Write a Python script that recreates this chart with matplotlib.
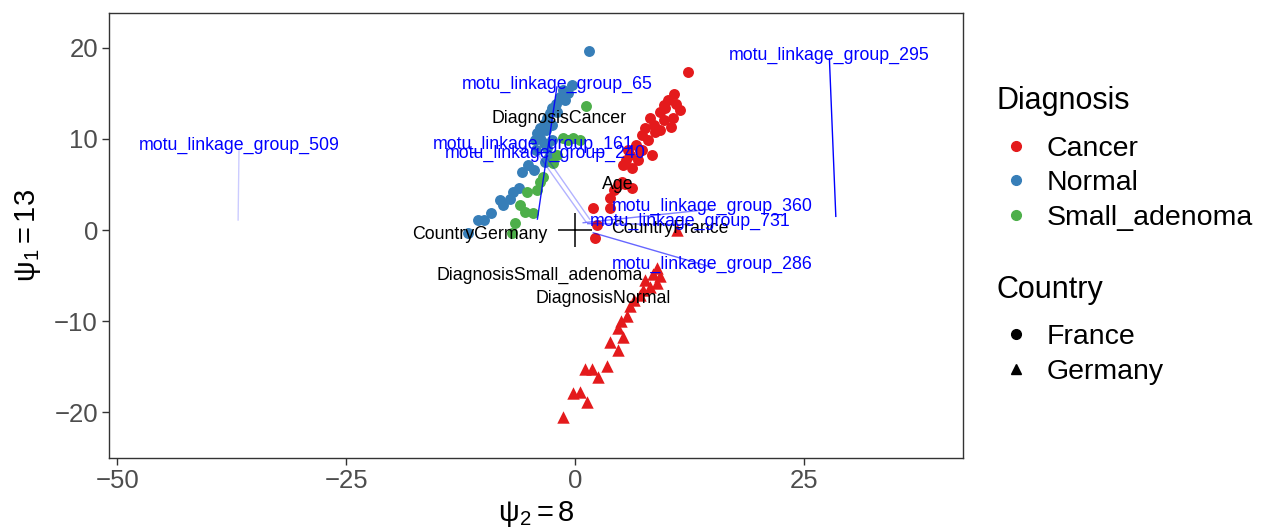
import matplotlib
matplotlib.use("Agg")
import matplotlib.pyplot as plt
from matplotlib.lines import Line2D

plt.rcParams['font.family'] = ['Liberation Sans', 'DejaVu Sans']
plt.rcParams['mathtext.fontset'] = 'custom'
plt.rcParams['mathtext.rm'] = 'Liberation Sans'
plt.rcParams['mathtext.it'] = 'Liberation Sans'
plt.rcParams['axes.unicode_minus'] = True

# sample scores on the two latent axes, by diagnosis and country
cancer_fr_x = [12.3, 10.8, 10.2, 11.0, 9.8, 9.3, 8.2, 8.6, 9.7, 11.5, 10.7, 7.6, 8.7, 7.3,
               9.3, 8.0, 6.7, 7.1, 6.0, 8.4, 5.6, 6.9, 5.3, 5.1, 4.7, 4.3, 3.8, 2.0, 3.8,
               2.4, 2.2, 5.5, 6.2, 9.7, 10.5, 7.3, 6.2, 5.8]
cancer_fr_y = [17.3, 14.9, 14.3, 13.8, 13.4, 12.9, 12.3, 11.5, 12.1, 13.2, 12.3, 11.2, 10.7, 10.4,
               11.0, 9.9, 9.3, 8.8, 8.2, 8.2, 7.7, 7.7, 7.1, 5.3, 4.9, 4.4, 3.5, 2.4, 2.4,
               0.5, -0.9, 5.0, 4.6, 13.7, 11.3, 8.8, 6.8, 8.8]
cancer_de_x = [8.95, 8.5, 8.95, 8.2, 7.4, 7.1, 6.4, 6.0, 5.7, 5.0, 4.7, 5.2, 3.8, 4.7, 3.5,
               1.9, 1.1, 2.5, 0.5, -0.2, 1.3, -1.3, 7.6, 11.1, 9.3]
cancer_de_y = [-4.2, -4.8, -5.8, -6.3, -6.6, -7.1, -7.7, -8.3, -9.4, -10.0, -10.7, -11.7, -12.3,
               -13.2, -14.9, -15.2, -15.2, -16.1, -17.8, -17.9, -18.9, -20.5, -5.5, 0.0, -5.0]
normal_x = [1.5, -0.3, -0.8, -1.3, -1.6, -1.1, -2.1, -2.5, -2.7, -3.0, -3.3, -3.8, -4.2, -3.8,
            -4.4, -3.2, -2.5, -2.0, -3.4, -3.0, -2.5, -2.8, -3.3, -5.1, -4.5, -5.8, -6.1,
            -6.8, -7.1, -7.9, -8.2, -9.2, -9.9, -10.6, -11.7, -4.3]
normal_y = [19.6, 15.9, 15.0, 15.4, 14.6, 14.3, 13.8, 13.4, 12.8, 12.3, 11.7, 11.2, 10.6, 10.1,
            9.9, 11.0, 11.5, 12.9, 9.5, 9.0, 9.9, 8.0, 7.5, 7.1, 6.6, 6.4, 4.6, 4.2, 3.4,
            2.7, 3.3, 1.9, 1.1, 1.1, -0.3, 8.8]
adenoma_x = [1.2, -1.3, -0.2, 0.5, -0.8, -2.0, -2.4, -3.5, -3.8, -4.1, -5.2, -6.0, -5.5,
             -4.6, -6.6, -6.9]
adenoma_y = [13.6, 10.1, 10.1, 9.9, 9.9, 8.2, 7.3, 5.8, 5.3, 4.4, 4.2, 2.7, 2.0, 1.9, 0.8, -0.3]

# covariate labels
cov_names = ["DiagnosisCancer", "Age", "CountryFrance", "CountryGermany",
             "DiagnosisSmall_adenoma", "DiagnosisNormal"]
cov_x = [-1.75, 4.7, 10.4, -10.4, -3.8, 3.1]
cov_y = [12.2, 5.0, 0.2, -0.5, -5.0, -7.5]

# taxa loadings and where their labels sit
taxa_names = ["motu_linkage_group_295", "motu_linkage_group_509", "motu_linkage_group_65",
              "motu_linkage_group_161", "motu_linkage_group_240", "motu_linkage_group_360",
              "motu_linkage_group_731", "motu_linkage_group_286"]
taxa_x = [28.5, -36.8, -4.1, 1.2, 1.6, 0.9, 1.4, 2.0]
taxa_y = [1.5, 1.1, 1.2, 0.9, 1.2, 0.8, 0.7, -0.3]
taxa_lab_x = [27.8, -36.7, -1.97, -4.6, -3.2, 15.0, 12.6, 15.0]
taxa_lab_y = [19.1, 9.3, 16.0, 9.4, 8.4, 2.6, 0.9, -3.8]
taxa_alpha = [1.0, 0.2, 0.9, 0.3, 0.3, 0.5, 0.55, 0.6]

red, blue, green = "#E41A1C", "#377EB8", "#4DAF4A"

fig = plt.figure(figsize=(12.71, 5.29), dpi=100)
ax = fig.add_axes([0.0858, 0.1342, 0.6719, 0.8412])

ax.scatter(cancer_fr_x, cancer_fr_y, s=62, c=red, marker='o', linewidths=0, zorder=2)
ax.scatter(cancer_de_x, cancer_de_y, s=80, c=red, marker='^', linewidths=0, zorder=2)
ax.scatter(normal_x, normal_y, s=62, c=blue, marker='o', linewidths=0, zorder=2)
ax.scatter(adenoma_x, adenoma_y, s=62, c=green, marker='o', linewidths=0, zorder=2)

ax.plot([0], [0], marker='+', color='black', markersize=24, mew=1.1, zorder=3)

for name, x, y in zip(cov_names, cov_x, cov_y):
    ax.text(x, y, name, fontsize=12.8, color='black', ha='center', va='center', zorder=4)

for name, x0, y0, lx, ly, a in zip(taxa_names, taxa_x, taxa_y, taxa_lab_x, taxa_lab_y, taxa_alpha):
    ax.plot([x0, lx], [y0, ly - 0.3], color='blue', alpha=a, lw=1.0, zorder=3)
    ax.text(lx, ly, name, fontsize=12.8, color='blue', ha='center', va='center', zorder=4)

ax.set_xlim(-50.9, 42.4)
ax.set_ylim(-25.0, 23.8)
ax.set_xticks([-50, -25, 0, 25])
ax.set_yticks([-20, -10, 0, 10, 20])
ax.tick_params(direction='out', length=5, width=1, color='#333333', labelcolor='#4D4D4D',
               labelsize=18.5, pad=3)
for sp in ax.spines.values():
    sp.set_color('#333333')
    sp.set_linewidth(1)

ax.set_xlabel(r'$\mathregular{ψ_2 = 8}$', fontsize=21, labelpad=4)
ax.set_ylabel(r'$\mathregular{ψ_1 = 13}$', fontsize=21, labelpad=8)

# legends: titles drawn as separate texts so the gap above the keys can be set
leg_kw = dict(loc='upper left', frameon=False, fontsize=20.5,
              handlelength=1.35, handletextpad=0.42,
              labelspacing=0.3, borderaxespad=0)
fig.text(0.7844, 0.794, "Diagnosis", fontsize=22, ha='left', va='baseline')
diag_handles = [Line2D([], [], marker='o', ls='', color=c, markersize=7) for c in (red, blue, green)]
fig.legend(diag_handles, ["Cancer", "Normal", "Small_adenoma"],
           bbox_to_anchor=(0.775, 0.765), **leg_kw)
fig.text(0.7844, 0.4367, "Country", fontsize=22, ha='left', va='baseline')
country_handles = [Line2D([], [], marker=m, ls='', color='black', markersize=7) for m in ('o', '^')]
fig.legend(country_handles, ["France", "Germany"],
           bbox_to_anchor=(0.775, 0.409), **leg_kw)

fig.savefig("out.png", dpi=100)
